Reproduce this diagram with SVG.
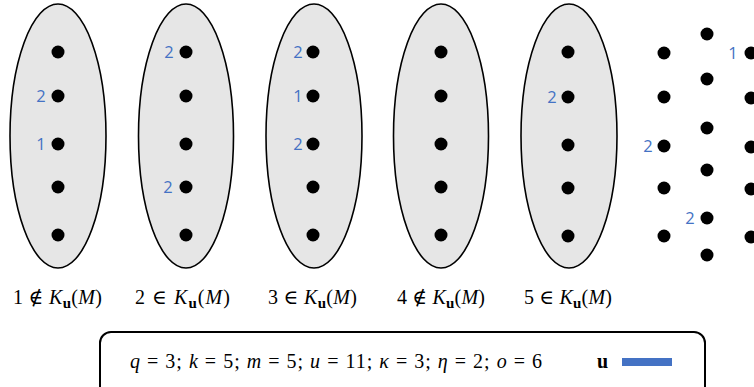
<svg xmlns="http://www.w3.org/2000/svg" width="754" height="387" viewBox="0 0 754 387">
<style>
.ell{fill:#e6e6e6;stroke:#000;stroke-width:1.6}
.dot{fill:#000}
.num{font-family:"Open Sans","Liberation Sans",sans-serif;font-size:16.5px;fill:#4472c4;text-anchor:middle}
.math{font-family:"Liberation Serif","DejaVu Serif",serif;font-size:20px;fill:#000}
.lbl{text-anchor:start}
.it{font-style:italic}
.sub{font-weight:bold;font-size:15px}
</style>
<defs>
<circle id="d" r="6.5" class="dot"/>
</defs>
<rect width="754" height="387" fill="#fff"/>

<g id="set1">
<ellipse class="ell" cx="58" cy="136" rx="48" ry="132"/>
<use href="#d" x="58" y="52"/><use href="#d" x="58" y="96"/><use href="#d" x="58" y="144"/><use href="#d" x="58" y="187"/><use href="#d" x="58" y="235"/>
<text class="num" x="41" y="102">2</text><text class="num" x="41" y="150">1</text>
<text class="math" x="13" y="304" textLength="89" lengthAdjust="spacing">1 ∉ <tspan class="it">K</tspan><tspan class="sub" dy="4">u</tspan><tspan dy="-4">(</tspan><tspan class="it">M</tspan>)</text>
</g>

<g id="set2">
<ellipse class="ell" cx="186" cy="136" rx="47.5" ry="132"/>
<use href="#d" x="186" y="52"/><use href="#d" x="186" y="96"/><use href="#d" x="186" y="144"/><use href="#d" x="186" y="187"/><use href="#d" x="186" y="235"/>
<text class="num" x="169" y="58">2</text><text class="num" x="168" y="193">2</text>
<text class="math" x="135" y="304" textLength="95" lengthAdjust="spacing">2 ∈ <tspan class="it">K</tspan><tspan class="sub" dy="4">u</tspan><tspan dy="-4">(</tspan><tspan class="it">M</tspan>)</text>
</g>

<g id="set3">
<ellipse class="ell" cx="314" cy="136" rx="48" ry="132"/>
<use href="#d" x="313" y="52"/><use href="#d" x="313" y="96"/><use href="#d" x="313" y="144"/><use href="#d" x="313" y="187"/><use href="#d" x="313" y="235"/>
<text class="num" x="298" y="58">2</text><text class="num" x="298" y="102">1</text><text class="num" x="298" y="150">2</text>
<text class="math" x="268" y="304" textLength="89" lengthAdjust="spacing">3 ∈ <tspan class="it">K</tspan><tspan class="sub" dy="4">u</tspan><tspan dy="-4">(</tspan><tspan class="it">M</tspan>)</text>
</g>

<g id="set4">
<ellipse class="ell" cx="441" cy="136" rx="47.5" ry="132"/>
<use href="#d" x="441" y="52"/><use href="#d" x="441" y="96"/><use href="#d" x="441" y="144"/><use href="#d" x="441" y="187"/><use href="#d" x="441" y="235"/>
<text class="math" x="397" y="304" textLength="88" lengthAdjust="spacing">4 ∉ <tspan class="it">K</tspan><tspan class="sub" dy="4">u</tspan><tspan dy="-4">(</tspan><tspan class="it">M</tspan>)</text>
</g>

<g id="set5">
<ellipse class="ell" cx="569" cy="136" rx="48" ry="132"/>
<use href="#d" x="568" y="52"/><use href="#d" x="568" y="97"/><use href="#d" x="568" y="145"/><use href="#d" x="568" y="188"/><use href="#d" x="568" y="236"/>
<text class="num" x="552" y="103">2</text>
<text class="math" x="524" y="304" textLength="88" lengthAdjust="spacing">5 ∈ <tspan class="it">K</tspan><tspan class="sub" dy="4">u</tspan><tspan dy="-4">(</tspan><tspan class="it">M</tspan>)</text>
</g>

<g id="points">
<use href="#d" x="664" y="53"/><use href="#d" x="664" y="97"/><use href="#d" x="664" y="146"/><use href="#d" x="664" y="188"/><use href="#d" x="664" y="236"/>
<use href="#d" x="707" y="34"/><use href="#d" x="707" y="79"/><use href="#d" x="707" y="128"/><use href="#d" x="707" y="170"/><use href="#d" x="707" y="218"/><use href="#d" x="707" y="255"/>
<use href="#d" x="751" y="53"/><use href="#d" x="751" y="98"/><use href="#d" x="751" y="147"/><use href="#d" x="751" y="189"/><use href="#d" x="751" y="237"/>
<text class="num" x="648" y="152">2</text><text class="num" x="690" y="224">2</text><text class="num" x="733" y="59">1</text>
</g>

<g id="legend">
<rect x="100" y="332" width="605" height="70" rx="11" fill="#fff" stroke="#000" stroke-width="2"/>
<text class="math" x="130" y="368" textLength="412" lengthAdjust="spacing"><tspan class="it">q</tspan> = 3; <tspan class="it">k</tspan> = 5; <tspan class="it">m</tspan> = 5; <tspan class="it">u</tspan> = 11; <tspan class="it">κ</tspan> = 3; <tspan class="it">η</tspan> = 2; <tspan class="it">o</tspan> = 6</text>
<text class="math" x="597" y="368" font-weight="bold">u</text>
<rect x="622" y="358" width="50" height="8" fill="#4472c4"/>
</g>
</svg>
